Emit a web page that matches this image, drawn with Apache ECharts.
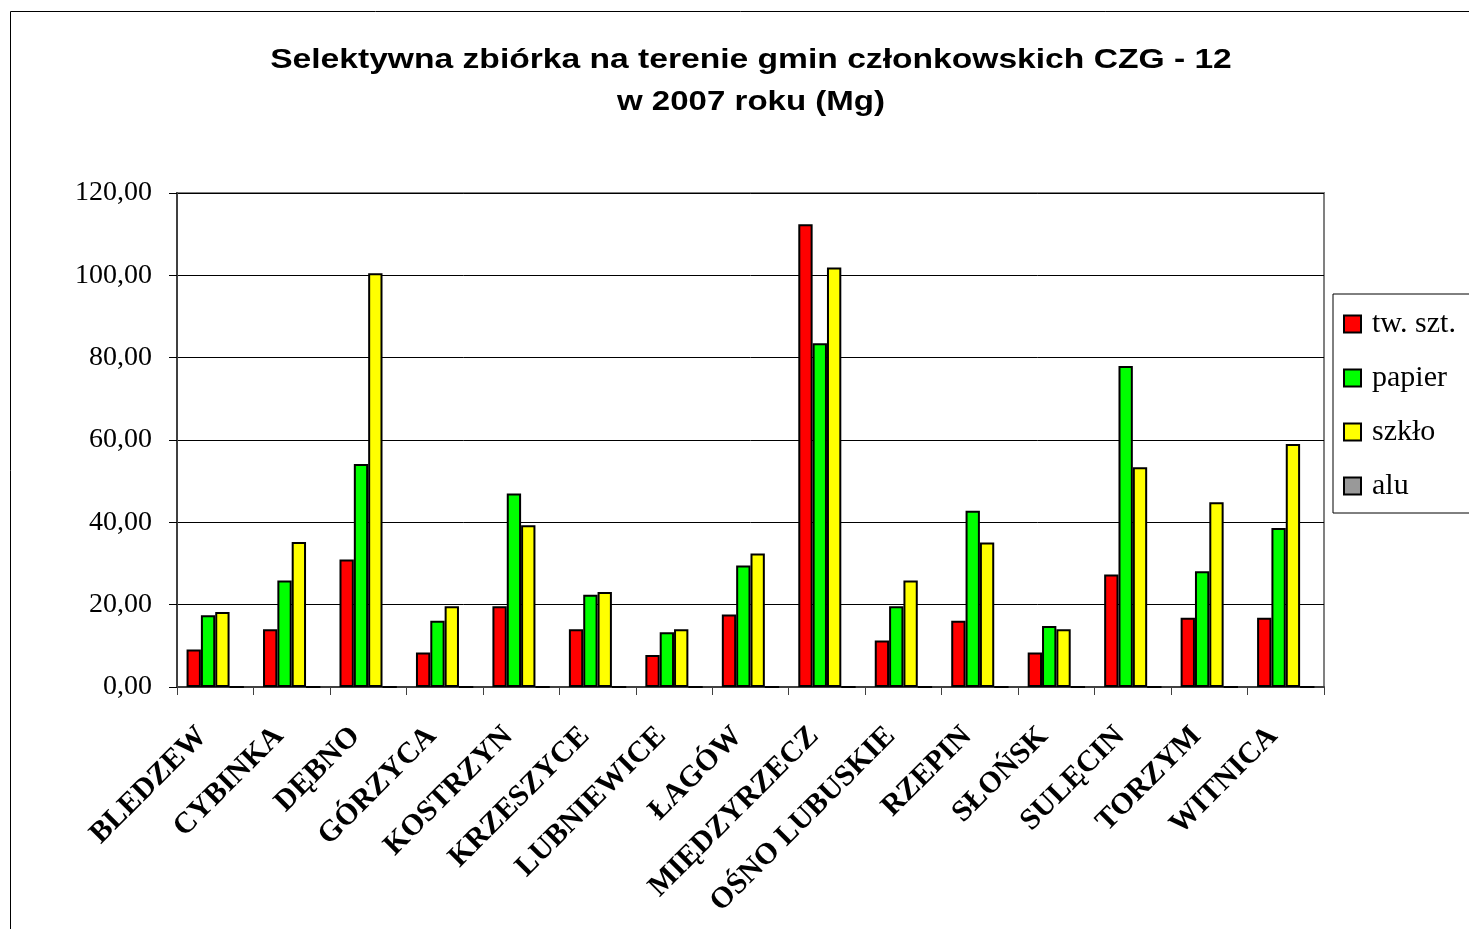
<!DOCTYPE html>
<html>
<head>
<meta charset="utf-8">
<script src="https://cdn.jsdelivr.net/npm/echarts@6/dist/echarts.min.js"></script>
<style>
  html, body { margin: 0; padding: 0; background: #fff; }
  #chart { width: 1469px; height: 929px; }
</style>
</head>
<body>
<div id="chart"></div>
<script>
const categories = ['BLEDZEW', 'CYBINKA', 'DĘBNO', 'GÓRZYCA', 'KOSTRZYN', 'KRZESZYCE', 'LUBNIEWICE', 'ŁAGÓW', 'MIĘDZYRZECZ', 'OŚNO LUBUSKIE', 'RZEPIN', 'SŁOŃSK', 'SULĘCIN', 'TORZYM', 'WITNICA'];
const twSzt  = [9.1, 14.0, 31.0, 8.4, 19.6, 14.0, 7.8, 17.6, 112.4, 11.3, 16.1, 8.4, 27.3, 16.8, 16.8];
const papier = [17.4, 25.9, 54.2, 16.1, 47.0, 22.4, 13.3, 29.5, 83.5, 19.6, 42.8, 14.8, 78.0, 28.1, 38.6];
const szklo  = [18.2, 35.2, 100.5, 19.6, 39.3, 23.1, 14.0, 32.4, 101.9, 25.9, 35.1, 14.0, 53.4, 44.9, 59.0];
const alu    = [0, 0, 0, 0, 0, 0, 0, 0, 0, 0, 0, 0, 0, 0, 0];
const seriesNames = ['tw. szt.', 'papier', 'szkło', 'alu'];
const seriesColors = ['#ff0000', '#00ff00', '#ffff00', '#999999'];
const yTicks = [0, 20, 40, 60, 80, 100, 120];
const titleLines = ['Selektywna zbiórka na terenie gmin członkowskich CZG - 12', 'w 2007 roku (Mg)'];

const chart = echarts.init(document.getElementById('chart'), null, { renderer: 'canvas' });
const seriesData = [twSzt, papier, szklo, alu];

const titleFont = 'bold 28px "Liberation Sans"';

const option = {
  backgroundColor: '#ffffff',
  animation: false,
  graphic: [
    {
      type: 'rect',
      shape: { x: 10.5, y: 11.5, width: 1500, height: 1000 },
      style: { fill: 'none', stroke: '#000', lineWidth: 1 },
      silent: true,
      z: -1
    },
    {
      type: 'text',
      x: 751, y: 60,
      scaleX: 1.2,
      style: { text: titleLines[0], font: titleFont, fill: '#000', textAlign: 'center', textVerticalAlign: 'middle' }
    },
    {
      type: 'text',
      x: 751, y: 102,
      scaleX: 1.18,
      style: { text: titleLines[1], font: titleFont, fill: '#000', textAlign: 'center', textVerticalAlign: 'middle' }
    }
  ],
  legend: {
    orient: 'vertical',
    left: 1333,
    top: 294,
    data: seriesNames,
    icon: 'rect',
    itemWidth: 17,
    itemHeight: 17,
    itemGap: 24,
    padding: [15, 20, 12, 10],
    backgroundColor: '#fff',
    borderColor: '#000',
    borderWidth: 1,
    textStyle: {
      fontFamily: 'Liberation Serif',
      fontSize: 30,
      color: '#000',
      padding: [0, 0, 0, 6]
    },
    itemStyle: { borderColor: '#000', borderWidth: 2 }
  },
  grid: {
    left: 177,
    right: 145,
    top: 193,
    bottom: 242,
    show: true,
    borderColor: '#808080',
    borderWidth: 2,
    containLabel: false
  },
  xAxis: {
    type: 'category',
    data: categories,
    axisLine: { show: true, lineStyle: { color: '#404040', width: 2 } },
    axisTick: { show: true, length: 8, alignWithLabel: false, lineStyle: { color: '#404040', width: 1 } },
    axisLabel: {
      rotate: 45,
      interval: 0,
      margin: 32,
      align: 'right',
      padding: [0, 18, 0, 0],
      fontFamily: 'Liberation Serif',
      fontWeight: 'bold',
      fontSize: 30,
      color: '#000'
    }
  },
  yAxis: {
    type: 'value',
    min: yTicks[0],
    max: yTicks[yTicks.length - 1],
    interval: 20,
    axisLine: { show: true, lineStyle: { color: '#404040', width: 2 } },
    axisTick: { show: true, length: 8, lineStyle: { color: '#000', width: 1 } },
    splitLine: { show: true, lineStyle: { color: '#000', width: 1 } },
    axisLabel: {
      margin: 25,
      fontFamily: 'Liberation Serif',
      fontSize: 28,
      color: '#000',
      formatter: v => v.toFixed(2).replace('.', ',')
    }
  },
  series: seriesNames.map((name, i) => ({
    name: name,
    type: 'bar',
    data: seriesData[i],
    barGap: '0%',
    barCategoryGap: '25%',
    itemStyle: { color: seriesColors[i], borderColor: '#000', borderWidth: 2 }
  }))
};
chart.setOption(option);
</script>
</body>
</html>
